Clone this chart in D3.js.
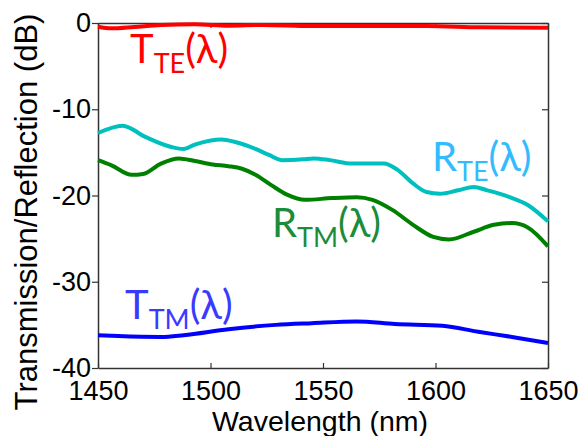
<!DOCTYPE html>
<html>
<head>
<meta charset="utf-8">
<script src="https://d3js.org/d3.v7.min.js"></script>
<style>
  body { margin: 0; background: #fff; }
</style>
</head>
<body>
<div id="my_dataviz"></div>
<script>
// values (wavelength in nm, level in dB)
var xTicks = [1450, 1500, 1550, 1600, 1650];
var yTicks = [0, -10, -20, -30, -40];

var tteWl = [1450, 1456, 1466, 1478, 1493, 1508, 1523, 1545, 1567, 1596, 1620, 1650];
var tteDb = [-0.43, -0.62, -0.46, -0.23, -0.15, -0.31, -0.23, -0.35, -0.35, -0.35, -0.5, -0.54];

var rteWl = [1450, 1461, 1471, 1483, 1488, 1493, 1505, 1511, 1520, 1526, 1532, 1541, 1546, 1553, 1563, 1577, 1583, 1590, 1596, 1602, 1610, 1617, 1623, 1632, 1641, 1650];
var rteDb = [-12.75, -11.9, -13.2, -14.4, -14.6, -14.1, -13.5, -13.8, -14.6, -15.3, -15.9, -15.8, -15.7, -15.9, -16.3, -16.3, -17.0, -18.6, -19.6, -19.8, -19.4, -19.0, -19.4, -20.1, -21.1, -23.0];

var rtmWl = [1450, 1456, 1465, 1470, 1478, 1486, 1493, 1501, 1508, 1514, 1520, 1527, 1534, 1542, 1554, 1565, 1572, 1581, 1590, 1599, 1606, 1617, 1626, 1634, 1641, 1650];
var rtmDb = [-15.9, -16.5, -17.6, -17.5, -16.3, -15.7, -16.0, -16.4, -16.6, -16.9, -17.6, -18.8, -19.9, -20.5, -20.3, -20.2, -20.5, -21.7, -23.4, -24.8, -25.1, -24.2, -23.4, -23.2, -23.7, -25.9];

var ttmWl = [1450, 1459, 1478, 1488, 1508, 1529, 1545, 1565, 1582, 1603, 1619, 1634, 1650];
var ttmDb = [-36.2, -36.3, -36.4, -36.2, -35.5, -35.0, -34.8, -34.6, -34.9, -35.1, -35.8, -36.4, -37.1];

// set the dimensions and margins of the graph
var margin = {top: 23, right: 31, bottom: 68, left: 98},
    width = 579 - margin.left - margin.right,
    height = 436 - margin.top - margin.bottom;

var svg = d3.select("#my_dataviz")
  .append("svg")
    .attr("width", 579)
    .attr("height", 436)
  .append("g")
    .attr("transform", "translate(" + margin.left + "," + margin.top + ")");

var x = d3.scaleLinear()
  .domain([1450, 1650])
  .range([0, width]);

var y = d3.scaleLinear()
  .domain([-40, 0])
  .range([height, 0]);

var axisColor = "#333";
var tickFont = "'Liberation Sans', Arial, sans-serif";
var plain = function(d) { return String(d); };  // keeps "1450" and a plain hyphen

// bottom axis, ticks pointing in
var xAxis = svg.append("g")
  .attr("transform", "translate(0," + height + ")")
  .call(d3.axisBottom(x).tickValues(xTicks).tickFormat(plain).tickSizeInner(-5).tickSizeOuter(0).tickPadding(13));

// top axis, no labels
var xTop = svg.append("g")
  .call(d3.axisTop(x).tickValues(xTicks).tickSizeInner(-5).tickSizeOuter(0).tickFormat(""));

// left axis, ticks pointing out
var yAxis = svg.append("g")
  .call(d3.axisLeft(y).tickValues(yTicks).tickFormat(plain).tickSizeInner(6).tickSizeOuter(0).tickPadding(1));

// right axis, ticks pointing in
var yRight = svg.append("g")
  .attr("transform", "translate(" + width + ",0)")
  .call(d3.axisRight(y).tickValues(yTicks).tickSizeInner(-6).tickSizeOuter(0).tickFormat(""));

[xAxis, xTop, yAxis, yRight].forEach(function(g) {
  g.attr("font-family", tickFont);
  g.select(".domain").attr("stroke", axisColor).attr("stroke-width", 1.5);
  g.selectAll(".tick line").attr("stroke", axisColor).attr("stroke-width", 1.2);
});

xAxis.selectAll(".tick text")
  .style("font-family", tickFont)
  .style("font-size", "27px")
  .attr("fill", "#000");

yAxis.selectAll(".tick text")
  .style("font-family", tickFont)
  .style("font-size", "27px")
  .attr("fill", "#000");

// axis titles
svg.append("text")
  .attr("x", 320 - margin.left)
  .attr("y", 431 - margin.top)
  .attr("text-anchor", "middle")
  .style("font-family", tickFont)
  .style("font-size", "28.5px")
  .text("Wavelength (nm)");

svg.append("text")
  .attr("transform", "translate(" + (37 - margin.left) + "," + (212 - margin.top) + ") rotate(-90)")
  .attr("text-anchor", "middle")
  .style("font-family", tickFont)
  .style("font-size", "31px")
  .text("Transmission/Reflection (dB)");

// the four curves
var series = [
  {wl: rteWl, db: rteDb, color: "#00bfbf"},
  {wl: rtmWl, db: rtmDb, color: "#008000"},
  {wl: ttmWl, db: ttmDb, color: "#0000ff"},
  {wl: tteWl, db: tteDb, color: "#ff0000"}
];

var line = d3.line()
  .x(function(d) { return x(d[0]); })
  .y(function(d) { return y(d[1]); })
  .curve(d3.curveMonotoneX);

series.forEach(function(s) {
  svg.append("path")
    .datum(d3.zip(s.wl, s.db))
    .attr("d", line)
    .attr("fill", "none")
    .attr("stroke", s.color)
    .attr("stroke-width", 4);
});

// curve labels: main letter, subscript, then (λ)
var labelFont = "Lato, 'Open Sans', sans-serif";
var labels = [
  {main: "T", sub: "TE", x: 130, y: 63, color: "#ff0000"},
  {main: "R", sub: "TE", x: 432, y: 171, color: "#33bbff"},
  {main: "R", sub: "TM", x: 272, y: 237, color: "#1a8c3a"},
  {main: "T", sub: "TM", x: 125, y: 319, color: "#3a3aff"}
];

labels.forEach(function(l) {
  var t = svg.append("text")
    .attr("x", l.x - margin.left)
    .attr("y", l.y - margin.top)
    .attr("fill", l.color)
    .style("font-family", labelFont)
    .style("font-size", "40px");
  t.append("tspan").text(l.main);
  t.append("tspan")
    .attr("dy", 10)
    .style("font-size", "27px")
    .text(l.sub);
  t.append("tspan")
    .attr("dy", -10)
    .text("(λ)");
});
</script>
</body>
</html>
